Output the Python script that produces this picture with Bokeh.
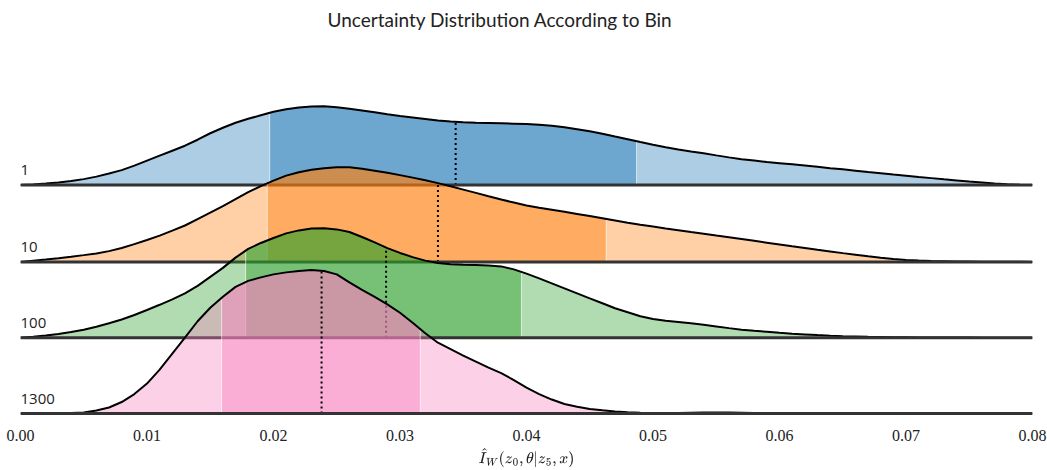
import numpy as np
from bokeh.plotting import figure
from bokeh.models import Range1d, FixedTicker, TeX
from bokeh.core.properties import value
from bokeh.embed import file_html
from bokeh.resources import INLINE

# ---------------- data ----------------
bins = ["1", "10", "100", "1300"]

# sample positions along the x axis (0.000 ... 0.080, every 0.001)
x_grid = [0.000, 0.001, 0.002, 0.003, 0.004, 0.005, 0.006, 0.007, 0.008, 0.009,
          0.010, 0.011, 0.012, 0.013, 0.014, 0.015, 0.016, 0.017, 0.018, 0.019,
          0.020, 0.021, 0.022, 0.023, 0.024, 0.025, 0.026, 0.027, 0.028, 0.029,
          0.030, 0.031, 0.032, 0.033, 0.034, 0.035, 0.036, 0.037, 0.038, 0.039,
          0.040, 0.041, 0.042, 0.043, 0.044, 0.045, 0.046, 0.047, 0.048, 0.049,
          0.050, 0.051, 0.052, 0.053, 0.054, 0.055, 0.056, 0.057, 0.058, 0.059,
          0.060, 0.061, 0.062, 0.063, 0.064, 0.065, 0.066, 0.067, 0.068, 0.069,
          0.070, 0.071, 0.072, 0.073, 0.074, 0.075, 0.076, 0.077, 0.078, 0.079,
          0.080]

# ridge heights (scaled density) per bin
dens_1 = [0, 0.7, 1.5, 2.7, 4.2, 6, 8.5, 11.7, 15, 19.5,
          24.5, 29.5, 34.5, 39.5, 45.5, 52, 57.5, 62.5, 66.5, 70,
          73.5, 76, 77.8, 78.8, 79, 78, 76.5, 74.8, 73, 71,
          69.3, 67.8, 66.3, 64.8, 63.7, 63, 62.6, 62.3, 62, 61.6,
          61.2, 60.6, 59.6, 58, 56, 54, 51.5, 48.7, 46, 43.2,
          40.5, 38, 35.8, 33.8, 32, 29.8, 27.8, 26, 24.6, 23.2,
          22, 20.8, 19.6, 18.3, 17, 15.8, 14.5, 13.2, 12, 10.7,
          9.5, 8.2, 7, 5.8, 4.7, 3.5, 2.5, 1.5, 0.8, 0.4,
          0.2]
dens_10 = [0, 1.2, 2.4, 3.7, 5.2, 6.8, 8.5, 10.8, 14, 17.8,
           22, 26.3, 31.3, 36.5, 43, 49.5, 56, 63, 70, 76,
           81.5, 86.5, 89.8, 92.3, 94, 94.9, 94.8, 93.5, 91.5, 89.3,
           87, 84.5, 81.8, 79, 75.8, 72.5, 69.2, 65.8, 62.5, 59.5,
           56.5, 54.2, 52.2, 50.2, 48.1, 46, 43.8, 41.5, 39.2, 37.2,
           35.4, 33.5, 31.7, 29.9, 28.2, 26.4, 24.7, 22.9, 21.1, 19.3,
           17.5, 15.7, 14, 12.2, 10.5, 8.8, 7.2, 5.6, 4.2, 3,
           2, 1.3, 0.8, 0.6, 0.4, 0.3, 0.2, 0.15, 0.1, 0.05,
           0]
dens_100 = [0, 1, 2.3, 3.8, 5.8, 8, 11, 14.5, 18.3, 22.8,
            27.8, 33, 38.5, 44.5, 52, 61, 70, 80.3, 89, 95,
            100, 104.6, 107.6, 109.4, 109.8, 108.6, 106, 101, 95.5, 89.8,
            85, 80.8, 77.3, 74.8, 73.6, 73.1, 72.8, 72.5, 71.5, 68.5,
            64.2, 59.5, 54.5, 49.5, 44.5, 39.5, 34.5, 29.5, 25.5, 21.5,
            18.8, 17, 15.8, 14.4, 13, 11.3, 9.6, 8, 6.9, 5.9,
            4.9, 4, 3.3, 2.6, 2, 1.5, 1.2, 0.9, 0.7, 0.5,
            0.4, 0.3, 0.2, 0.15, 0.1, 0.1, 0.05, 0.05, 0, 0,
            0]
dens_1300 = [0, 0, 0, 0.1, 0.4, 1, 3, 6, 11.5, 19.5,
             30, 44, 60, 76, 92.5, 106, 117, 127, 133, 136.5,
             139.5, 141.5, 143, 143.8, 142.8, 139.5, 131.5, 124, 117, 109.5,
             101, 91, 80.5, 71, 64.5, 58, 52, 46, 40.5, 33.5,
             26, 19.5, 14, 9.5, 6.8, 4.6, 3.2, 2, 1.2, 0.8,
             0.6, 0.5, 0.5, 0.7, 0.9, 1, 0.9, 0.7, 0.4, 0.2,
             0.1, 0, 0, 0, 0, 0, 0, 0, 0, 0,
             0, 0, 0, 0, 0, 0, 0, 0, 0, 0,
             0]

# central interval (dark band) and centre marker per bin
interval_lo = [0.0197, 0.0195, 0.0178, 0.0159]
interval_hi = [0.0487, 0.0463, 0.0396, 0.0316]
centre = [0.0344, 0.0330, 0.0289, 0.0238]

tick_values = [0.00, 0.01, 0.02, 0.03, 0.04, 0.05, 0.06, 0.07, 0.08]
tick_labels = ["0.00", "0.01", "0.02", "0.03", "0.04", "0.05", "0.06", "0.07", "0.08"]

colors = ["#1f77b4", "#ff7f0e", "#2ca02c", "#f781bf"]
ridge_offsets = [229, 152, 76, 0]   # vertical placement of each ridge

densities = [dens_1, dens_10, dens_100, dens_1300]

# ---------------- figure ----------------
p = figure(width=1047, height=470, output_backend="svg", toolbar_location=None,
           x_range=Range1d(0, 0.08), y_range=Range1d(-3, 379),
           min_border_left=20, min_border_right=15, min_border_top=0,
           min_border_bottom=54, y_axis_location=None,
           title="Uncertainty Distribution According to Bin")
p.title.text_font = "Lato"
p.title.text_font_size = "19px"
p.title.text_font_style = "normal"
p.title.text_color = "#222222"
p.title.align = "left"
p.title.offset = 307
p.grid.visible = False
p.outline_line_color = None

xa = p.xaxis[0]
xa.ticker = FixedTicker(ticks=tick_values)
xa.major_label_overrides = {v: s for v, s in zip(tick_values, tick_labels)}
xa.axis_line_color = None
xa.major_tick_line_color = None
xa.minor_tick_line_color = None
xa.major_label_text_font = "Liberation Serif"
xa.major_label_text_font_size = "16px"
xa.major_label_text_color = "#222222"
xa.major_label_standoff = 7
xa.axis_label = TeX(text=r"\hat{I}_W(z_0, \theta|z_5, x)")
xa.axis_label_text_font_size = "12px"
xa.axis_label_standoff = 3
xa.axis_label_text_color = "#222222"

xs = np.array(x_grid)
for i, (lab, dens) in enumerate(zip(bins, densities)):
    off = ridge_offsets[i]
    ys = off + np.array(dens, dtype=float)
    lo, hi, c = interval_lo[i], interval_hi[i], colors[i]
    y_lo = float(np.interp(lo, xs, ys))
    y_hi = float(np.interp(hi, xs, ys))

    # left light part
    m = xs < lo
    px = list(xs[m]) + [lo, lo, xs[0]]
    py = list(ys[m]) + [y_lo, off, off]
    p.patch(px, py, fill_color=c, fill_alpha=0.37, line_color=None)
    # central dark part
    m = (xs > lo) & (xs < hi)
    px = [lo] + list(xs[m]) + [hi, hi, lo]
    py = [y_lo] + list(ys[m]) + [y_hi, off, off]
    p.patch(px, py, fill_color=c, fill_alpha=0.65, line_color=None)
    # right light part
    m = xs > hi
    px = [hi] + list(xs[m]) + [xs[-1], hi]
    py = [y_hi] + list(ys[m]) + [off, off]
    p.patch(px, py, fill_color=c, fill_alpha=0.37, line_color=None)

    # faint white interval edges
    p.segment(x0=[lo, hi], y0=[off, off], x1=[lo, hi], y1=[y_lo, y_hi],
              line_color="white", line_alpha=0.6, line_width=1)

    # outline
    p.line(xs, ys, line_color="black", line_width=2)

    # dotted centre marker
    y_c = float(np.interp(centre[i], xs, ys))
    p.segment(x0=[centre[i]], y0=[off], x1=[centre[i]], y1=[y_c],
              line_color="black", line_width=2, line_dash="2 3")

    # baseline
    p.segment(x0=[0], y0=[off], x1=[0.08], y1=[off],
              line_color="#333333", line_width=3)

    # ridge label
    p.text(x=[0.0], y=[off + 10], text=[lab], text_font=value("Open Sans"),
           text_font_size="15px", text_color="#222222",
           text_align="left", text_baseline="bottom")

open("out.html", "w").write(file_html(p, INLINE))
